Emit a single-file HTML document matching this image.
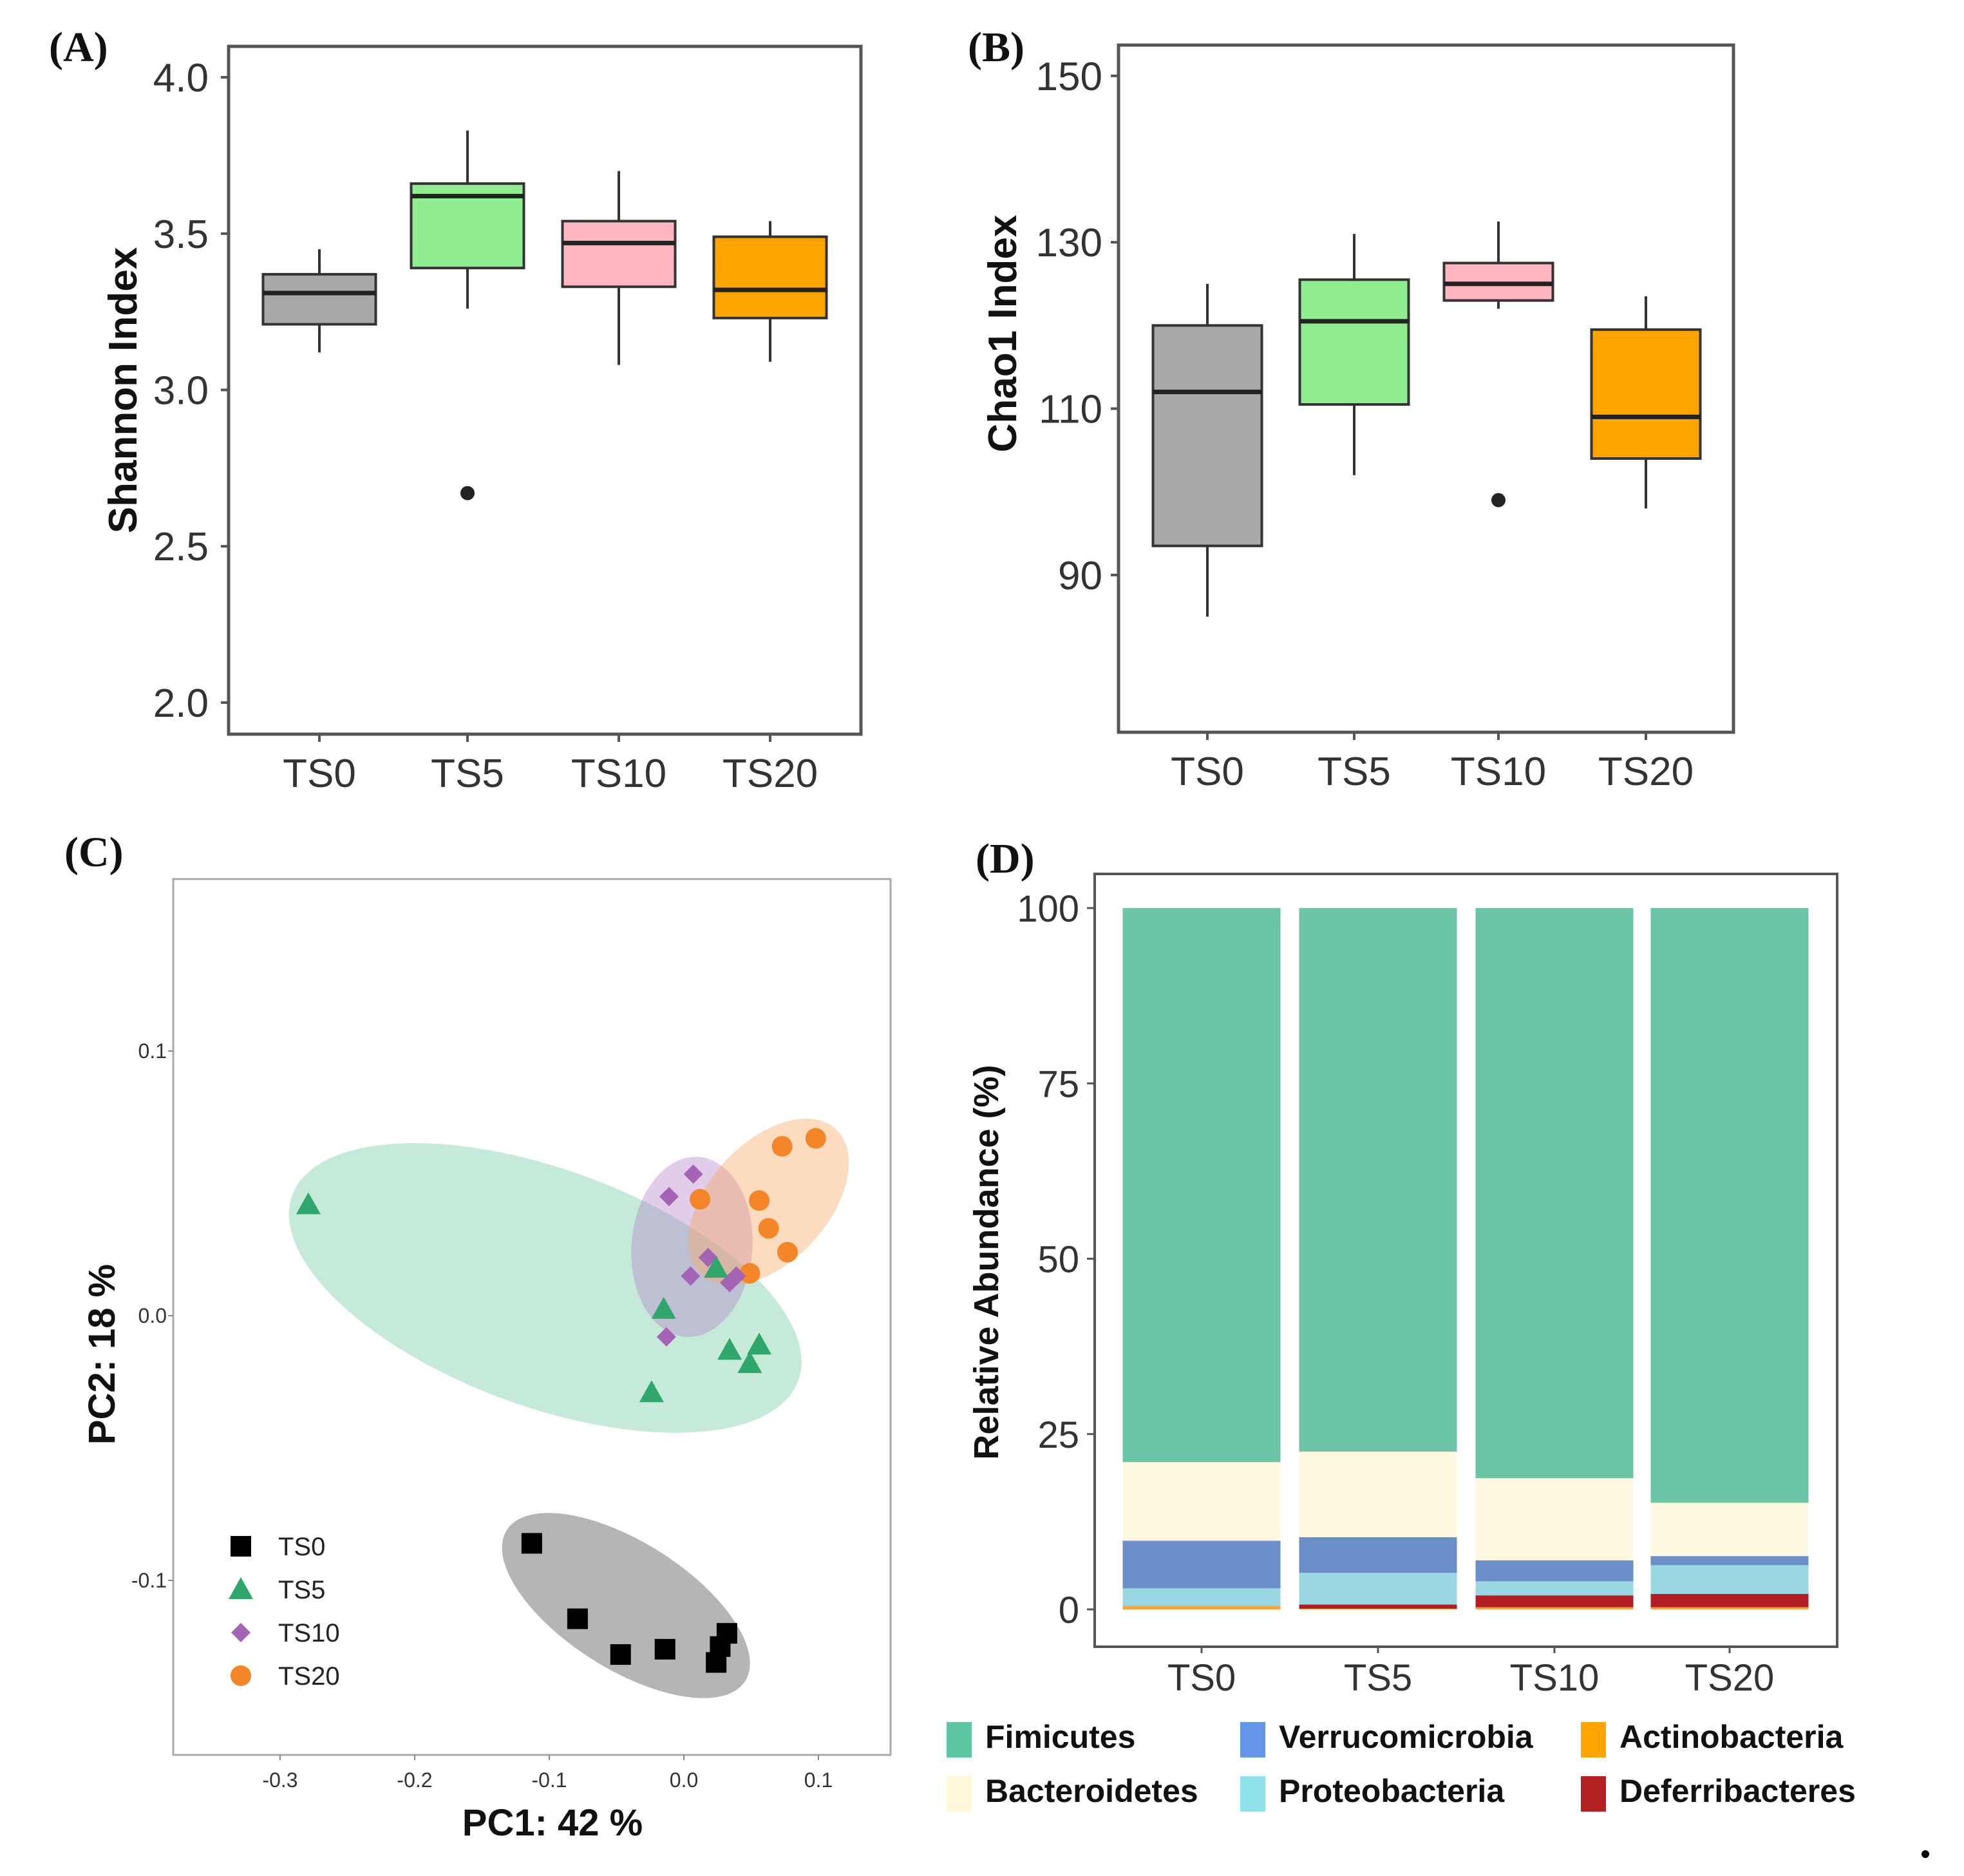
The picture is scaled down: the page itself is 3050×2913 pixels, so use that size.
<!DOCTYPE html>
<html><head><meta charset="utf-8">
<style>
html,body{margin:0;padding:0;background:#fff;}
svg{display:block;}
</style></head>
<body>
<svg id="fig" width="3050" height="2913" viewBox="0 0 3050 2913" xmlns="http://www.w3.org/2000/svg" font-family="Liberation Sans, sans-serif">
<rect x="0" y="0" width="3050" height="2913" fill="#fff"/>
<g id="panelA"></g>
<g id="panelB"></g>
<g id="panelC"></g>
<g id="panelD"></g>
<circle cx="2990" cy="2879" r="6" fill="#000"/>
</svg>
<script>
// ---------- shared data ----------
const groups = ["TS0","TS5","TS10","TS20"];
const boxFills = ["#a9a9a9","#90ee90","#ffb6c1","#ffa500"];
// Panel A: Shannon
const shannonLow = [3.12,3.26,3.08,3.09];
const shannonQ1 = [3.21,3.39,3.33,3.23];
const shannonMed = [3.31,3.62,3.47,3.32];
const shannonQ3 = [3.37,3.66,3.54,3.49];
const shannonHigh = [3.45,3.83,3.70,3.54];
const shannonOutliers = [[1,2.67]];
const shannonTicks = ["2.0","2.5","3.0","3.5","4.0"];
// Panel B: Chao1
const chaoLow = [85,102,122,98];
const chaoQ1 = [93.5,110.5,123,104];
const chaoMed = [112,120.5,125,109];
const chaoQ3 = [120,125.5,127.5,119.5];
const chaoHigh = [125,131,132.5,123.5];
const chaoOutliers = [[2,99]];
const chaoTicks = ["90","110","130","150"];
// Panel C: PCoA
const ts0X = [-0.113,-0.079,-0.047,-0.014,0.032,0.027,0.024];
const ts0Y = [-0.086,-0.1145,-0.128,-0.126,-0.120,-0.125,-0.131];
const ts5X = [-0.279,-0.015,0.034,0.056,0.049,-0.024,0.024];
const ts5Y = [0.042,0.0025,-0.013,-0.011,-0.018,-0.029,0.018];
const ts10X = [0.007,-0.011,0.005,-0.013,0.018,0.034,0.039];
const ts10Y = [0.0535,0.045,0.015,-0.008,0.022,0.0125,0.015];
const ts20X = [0.098,0.073,0.012,0.056,0.063,0.077,0.049];
const ts20Y = [0.067,0.064,0.044,0.0435,0.033,0.024,0.016];
// ellipses: center and semi-major endpoint (data units), minor/major ratio
const ellCx = [-0.043,-0.103,0.006,0.063];
const ellCy = [-0.1095,0.0105,0.026,0.043];
const ellEx = [0.0456,0.085,0.011,0.113];
const ellEy = [-0.138,-0.0245,0.06,0.0705];
const ellRatio = [0.45,0.44,0.67,0.6];
const pcXTicks = ["-0.3","-0.2","-0.1","0.0","0.1"];
const pcYTicks = ["-0.1","0.0","0.1"];
// Panel D: stacked bars (bottom to top)
const phyla = ["Actinobacteria","Deferribacteres","Proteobacteria","Verrucomicrobia","Bacteroidetes","Fimicutes"];
const actino = [0.5,0.1,0.3,0.3];
const deferri = [0,0.6,1.7,1.9];
const proteo = [2.5,4.5,2.0,4.1];
const verruco = [6.8,5.1,3.0,1.3];
const bactero = [11.2,12.2,11.7,7.6];
const firmic = [79,77.5,81.3,84.8];
const abTicks = ["0","25","50","75","100"];

const NS="http://www.w3.org/2000/svg";
function mk(parent,tag,attrs,txt){const e=document.createElementNS(NS,tag);for(const k in attrs)e.setAttribute(k,attrs[k]);if(txt!==undefined)e.textContent=txt;parent.appendChild(e);return e;}
const SERIF="Liberation Serif, serif";

// ---------- boxplot panels ----------
function boxPanel(g,o){
  const {L,T,R,B,y0,y1,xs,lo,q1,md,q3,hi,outl,ticks,title,titleX,titleY,tickRight,bw,label,labelX}=o;
  const ys=v=>B-(v-y0)/(y1-y0)*(B-T);
  for(let i=0;i<groups.length;i++){
    const x=xs[i];
    const w1=mk(g,"line",{x1:x,x2:x,y1:ys(hi[i]),y2:ys(q3[i]),stroke:"#333","stroke-width":4});
    
    
    const w2=mk(g,"line",{x1:x,x2:x,y1:ys(q1[i]),y2:ys(lo[i]),stroke:"#333","stroke-width":4});
    
    
    const r=mk(g,"rect",{x:x-bw/2,y:ys(q3[i]),width:bw,height:ys(q1[i])-ys(q3[i]),fill:boxFills[i],stroke:"#333","stroke-width":4});
    
    
    const m=mk(g,"line",{x1:x-bw/2,x2:x+bw/2,y1:ys(md[i]),y2:ys(md[i]),stroke:"#222","stroke-width":7});
    
    
  }
  outl.forEach(p=>{const c=mk(g,"circle",{cx:xs[p[0]],cy:ys(p[1]),r:11,fill:"#222"});
    
    });
  const fr=mk(g,"rect",{x:L,y:T,width:R-L,height:B-T,fill:"none",stroke:"#555","stroke-width":5});
  
  
  ticks.forEach(t=>{const y=ys(parseFloat(t));
    mk(g,"line",{x1:L-12,x2:L,y1:y,y2:y,stroke:"#555","stroke-width":4});
    const tx=mk(g,"text",{x:tickRight,y:y+22,"text-anchor":"end","font-size":62,fill:"#333"},t);
    
    });
  groups.forEach((gname,i)=>{mk(g,"line",{x1:xs[i],x2:xs[i],y1:B,y2:B+12,stroke:"#555","stroke-width":4});
    const tx=mk(g,"text",{x:xs[i],y:B+82,"text-anchor":"middle","font-size":62,fill:"#333"},gname);
    
    });
  const yt=mk(g,"text",{x:titleX,y:titleY,transform:`rotate(-90 ${titleX} ${titleY})`,"text-anchor":"middle","font-size":62,"font-weight":"bold",fill:"#111"},title);
  
  
  const pl=mk(g,"text",{x:labelX,y:95,"font-size":66,"font-weight":"bold","font-family":SERIF,fill:"#111"},label);
  
  
}
boxPanel(document.getElementById("panelA"),{L:355,T:72,R:1337,B:1140,y0:2+(1091-1140)/485,y1:4+(120-72)/485,
  xs:[496,726,961,1196],lo:shannonLow,q1:shannonQ1,md:shannonMed,q3:shannonQ3,hi:shannonHigh,outl:shannonOutliers,
  ticks:shannonTicks,title:"Shannon Index",titleX:212,titleY:606,tickRight:324,bw:175,label:"(A)",labelX:76});
boxPanel(document.getElementById("panelB"),{L:1737,T:70,R:2692,B:1137,y0:71.1,y1:153.7,
  xs:[1875,2103,2327,2556],lo:chaoLow,q1:chaoQ1,md:chaoMed,q3:chaoQ3,hi:chaoHigh,outl:chaoOutliers,
  ticks:chaoTicks,title:"Chao1 Index",titleX:1578,titleY:518,tickRight:1712,bw:169,label:"(B)",labelX:1503});

// ---------- Panel C ----------
(function(){
  const g=document.getElementById("panelC");
  const L=269,R=1383,T=1365,B=2725;
  const xs=v=>1062+v*2090, ys=v=>2043-v*4110;
  const ellFill=["rgba(120,120,120,0.55)","rgba(90,195,145,0.35)","rgba(175,120,200,0.38)","rgba(248,170,100,0.42)"];
  const ellNames=["ellipse-TS0","ellipse-TS5","ellipse-TS10","ellipse-TS20"];
  for(let i=0;i<4;i++){
    const cx=xs(ellCx[i]),cy=ys(ellCy[i]),ex=xs(ellEx[i]),ey=ys(ellEy[i]);
    const a=Math.hypot(ex-cx,ey-cy),ang=Math.atan2(ey-cy,ex-cx)*180/Math.PI;
    const e=mk(g,"ellipse",{cx:cx,cy:cy,rx:a,ry:a*ellRatio[i],fill:ellFill[i],transform:`rotate(${ang} ${cx} ${cy})`});
    
    
  }
  function sq(x,y){return mk(g,"rect",{x:x-16,y:y-16,width:32,height:32,fill:"#000"});}
  function tri(x,y){return mk(g,"polygon",{points:`${x},${y-19} ${x-19},${y+15} ${x+19},${y+15}`,fill:"#2ea66c"});}
  function dia(x,y){return mk(g,"polygon",{points:`${x},${y-15} ${x+15},${y} ${x},${y+15} ${x-15},${y}`,fill:"#a463b5"});}
  function cir(x,y){return mk(g,"circle",{cx:x,cy:y,r:16,fill:"#f4862a"});}
  ts0X.forEach((v,i)=>{const p=sq(xs(v),ys(ts0Y[i]));});
  ts20X.forEach((v,i)=>{const p=cir(xs(v),ys(ts20Y[i]));});
  ts10X.forEach((v,i)=>{const p=dia(xs(v),ys(ts10Y[i]));});
  ts5X.forEach((v,i)=>{const p=tri(xs(v),ys(ts5Y[i]));});
  const fr=mk(g,"rect",{x:L,y:T,width:R-L,height:B-T,fill:"none",stroke:"#aaa","stroke-width":3});
  
  
  pcXTicks.forEach(t=>{const x=xs(parseFloat(t));mk(g,"line",{x1:x,x2:x,y1:B,y2:B+8,stroke:"#888","stroke-width":2});
    const tx=mk(g,"text",{x:x,y:B+50,"text-anchor":"middle","font-size":32,fill:"#333"},t);
    
    });
  pcYTicks.forEach(t=>{const y=ys(parseFloat(t));mk(g,"line",{x1:L-8,x2:L,y1:y,y2:y,stroke:"#888","stroke-width":2});
    const tx=mk(g,"text",{x:L-10,y:y+11,"text-anchor":"end","font-size":32,fill:"#333"},t);
    
    });
  const xt=mk(g,"text",{x:858,y:2850,"text-anchor":"middle","font-size":58,"font-weight":"bold",fill:"#111"},"PC1: 42 %");
  
  
  const yt=mk(g,"text",{x:178,y:2103,transform:"rotate(-90 178 2103)","text-anchor":"middle","font-size":58,"font-weight":"bold",fill:"#111"},"PC2: 18 %");
  
  
  const pl=mk(g,"text",{x:100,y:1345,"font-size":66,"font-weight":"bold","font-family":SERIF,fill:"#111"},"(C)");
  
  
  const ly=[2401,2468,2535,2602];
  const lg=[sq(374,ly[0]),tri(374,ly[1]),dia(374,ly[2]),cir(374,ly[3])];
  lg.forEach((m,i)=>{
    const tx=mk(g,"text",{x:432,y:ly[i]+14,"font-size":40,fill:"#222"},groups[i]);
    
    });
})();

// ---------- Panel D ----------
(function(){
  const g=document.getElementById("panelD");
  const L=1700,R=2853,T=1357,B=2557;
  const ys=v=>2499-v*10.89;
  const xs=[1866,2140,2414,2686],bw=245;
  const series=[actino,deferri,proteo,verruco,bactero,firmic];
  const cols=["#f4a340","#b21e24","#99d8e3","#6b8fc9","#fff8e0","#6dc5a8"];
  for(let i=0;i<groups.length;i++){
    let base=0;
    series.forEach((s,k)=>{
      const r=mk(g,"rect",{x:xs[i]-bw/2,y:ys(base+s[i]),width:bw,height:ys(base)-ys(base+s[i]),fill:cols[k]});
      
      
      base+=s[i];
    });
  }
  const fr=mk(g,"rect",{x:L,y:T,width:R-L,height:B-T,fill:"none",stroke:"#555","stroke-width":4});
  
  
  abTicks.forEach(t=>{const y=ys(parseFloat(t));mk(g,"line",{x1:L-12,x2:L,y1:y,y2:y,stroke:"#555","stroke-width":3});
    const tx=mk(g,"text",{x:1676,y:y+21,"text-anchor":"end","font-size":58,fill:"#333"},t);
    
    });
  groups.forEach((gn,i)=>{mk(g,"line",{x1:xs[i],x2:xs[i],y1:B,y2:B+10,stroke:"#555","stroke-width":3});
    const tx=mk(g,"text",{x:xs[i],y:B+68,"text-anchor":"middle","font-size":58,fill:"#333"},gn);
    
    });
  const yt=mk(g,"text",{x:1550,y:1960,transform:"rotate(-90 1550 1960)","text-anchor":"middle","font-size":54,"font-weight":"bold",fill:"#111"},"Relative Abundance (%)");
  
  
  const pl=mk(g,"text",{x:1515,y:1355,"font-size":66,"font-weight":"bold","font-family":SERIF,fill:"#111"},"(D)");
  
  
  // legend
  const legNames=["Fimicutes","Bacteroidetes","Verrucomicrobia","Proteobacteria","Actinobacteria","Deferribacteres"];
  const legCols=["#5cc7a0","#fff6dc","#6495e6","#90e2ec","#ffa500","#b22222"];
  const lx=[1470,1470,1926,1926,2455,2455], ly=[2674,2758,2674,2758,2674,2758];
  legNames.forEach((n,i)=>{
    const s=mk(g,"rect",{x:lx[i],y:ly[i],width:39,height:55,fill:legCols[i]});
    
    
    const tx=mk(g,"text",{x:lx[i]+60,y:ly[i]+40,"font-size":50,"font-weight":"bold",fill:"#111"},n);
    
    
  });
})();
</script>
</body></html>
